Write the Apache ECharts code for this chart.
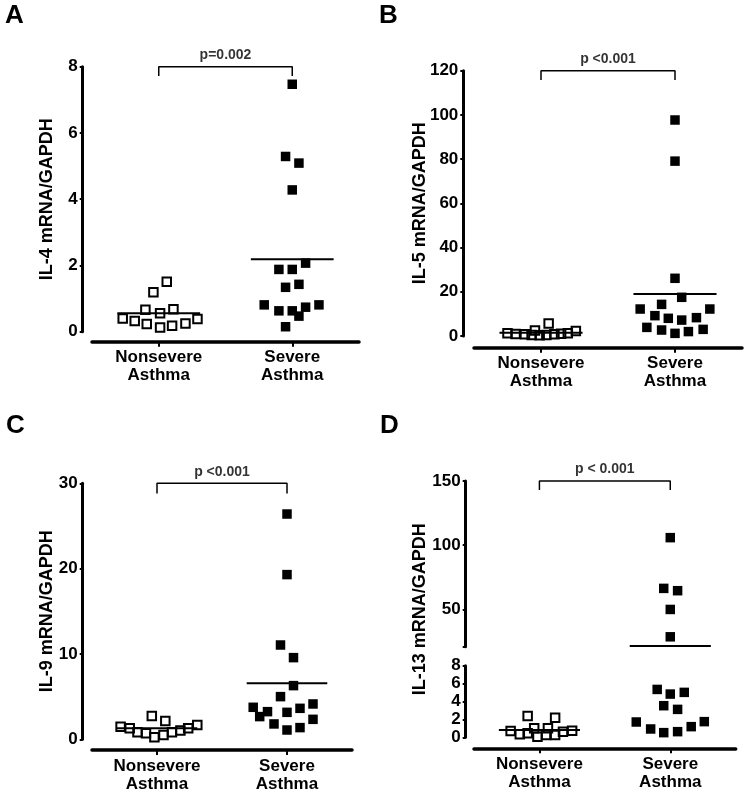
<!DOCTYPE html>
<html><head><meta charset="utf-8">
<script src="https://cdn.jsdelivr.net/npm/echarts@6/dist/echarts.min.js"></script>
<style>html,body{margin:0;padding:0;background:#fff}#c{width:748px;height:793px}</style>
</head><body><div id="c"></div>
<script>
// ---------- DATA ----------
const categories = ['Nonsevere\nAsthma', 'Severe\nAsthma'];

// Panel A: IL-4
const il4Nonsevere = [1.51, 1.19, 0.66, 0.56, 0.68, 0.40, 0.32, 0.23, 0.13, 0.18, 0.25, 0.38];
const il4NonsevereJitter = [0.06, -0.04, -0.10, 0.01, 0.11, -0.27, -0.18, -0.09, 0.01, 0.10, 0.20, 0.29];
const il4Severe = [7.47, 5.29, 5.09, 4.28, 2.07, 1.88, 1.88, 1.34, 1.43, 0.81, 0.81, 0.63, 0.63, 0.74, 0.47, 0.15];
const il4SevereJitter = [0, -0.05, 0.05, 0, 0.10, -0.10, 0, -0.05, 0.05, -0.21, 0.20, -0.10, 0, 0.10, 0.05, -0.05];
const il4Means = [0.56, 2.19];
const il4Ticks = [0, 8, 2];
const il4P = 'p=0.002';

// Panel B: IL-5
const il5Nonsevere = [1.2, 0.9, 0.8, 0.5, 2.5, 0.3, 5.7, 0.4, 0.8, 1.0, 1.3, 2.3];
const il5NonsevereJitter = [-0.25, -0.19, -0.12, -0.07, -0.045, -0.01, 0.057, 0.04, 0.10, 0.15, 0.20, 0.26];
const il5Severe = [97.7, 79.1, 26.1, 17.5, 14.3, 12.2, 12.2, 9.2, 8.0, 7.2, 8.3, 3.9, 2.7, 1.2, 2.0, 3.0];
const il5SevereJitter = [0, 0, 0, 0.05, -0.10, -0.26, 0.26, -0.15, -0.05, 0.05, 0.16, -0.21, -0.10, 0, 0.10, 0.21];
const il5Means = [1.5, 19.0];
const il5Ticks = [0, 120, 20];
const il5P = 'p <0.001';

// Panel C: IL-9
const il9Nonsevere = [2.73, 2.15, 1.48, 1.29, 0.82, 0.70, 0.23, 0.50, 0.82, 1.02, 1.29, 1.68];
const il9NonsevereJitter = [-0.04, 0.064, -0.28, -0.21, -0.15, -0.085, -0.02, 0.05, 0.115, 0.18, 0.24, 0.31];
const il9Severe = [26.4, 19.3, 11.05, 9.57, 6.29, 5.0, 3.75, 3.24, 3.16, 3.63, 4.14, 2.66, 1.8, 1.09, 1.37, 2.34];
const il9SevereJitter = [0, 0, -0.05, 0.05, 0.05, -0.05, -0.26, -0.15, 0, 0.10, 0.20, -0.21, -0.10, 0, 0.10, 0.20];
const il9Means = [1.3, 6.56];
const il9Ticks = [0, 30, 10];
const il9P = 'p <0.001';

// Panel D: IL-13 (broken axis)
const il13Nonsevere = [2.38, 2.19, 0.71, 0.33, 0.45, 1.0, 0.07, 0.26, 1.0, 0.26, 0.63, 0.74];
const il13NonsevereJitter = [-0.09, 0.12, -0.22, -0.15, -0.09, -0.04, -0.015, 0.05, 0.065, 0.12, 0.18, 0.25];
const il13Severe = [105.9, 66.4, 64.6, 50.0, 28.7, 5.35, 4.83, 5.02, 3.53, 3.12, 1.71, 0.93, 0.52, 0.63, 1.19, 1.75];
const il13SevereJitter = [0, -0.05, 0.056, 0, 0, -0.10, 0, 0.107, -0.05, 0.056, -0.26, -0.15, -0.05, 0.056, 0.16, 0.26];
const il13Means = [0.82, 21.5];
const il13LowerTicks = [0, 8, 2];
const il13UpperRange = [21, 150];
const il13UpperLabels = [50, 100, 150];
const il13P = 'p < 0.001';

// ---------- BUILD ----------
const FONT = "'Liberation Sans', Arial, Helvetica, sans-serif";
const option = { backgroundColor: '#ffffff', animation: false, grid: [], xAxis: [], yAxis: [], series: [], title: [] };

function addGrid(box) { option.grid.push(Object.assign({ containLabel: false }, box)); return option.grid.length - 1; }

function addXAxes(gi, showCat, xOffset) {
  option.xAxis.push({
    type: 'category', gridIndex: gi, data: categories, boundaryGap: true, show: showCat, offset: xOffset,
    axisLine: { show: true, onZero: false, lineStyle: { color: '#000', width: 3.5 } },
    axisTick: { show: true, alignWithLabel: true, length: 5, lineStyle: { color: '#000', width: 2 } },
    axisLabel: { color: '#000', fontSize: 17, fontWeight: 'bold', fontFamily: FONT, lineHeight: 18, margin: 7, interval: 0 },
    splitLine: { show: false }
  });
  const valIdx = option.xAxis.length;
  option.xAxis.push({ type: 'value', gridIndex: gi, min: 0.5, max: 2.5, show: false, splitLine: { show: false } });
  return valIdx;
}

function addYAxis(gi, cfg) {
  const ax = {
    type: 'value', gridIndex: gi, offset: cfg.offset, min: cfg.min, max: cfg.max,
    axisLine: { show: true, onZero: false, lineStyle: { color: '#000', width: 3 } },
    axisTick: { show: true, length: 3, lineStyle: { color: '#000', width: 2 } },
    axisLabel: { show: true, color: '#000', fontSize: 17, fontWeight: 'bold', fontFamily: FONT, margin: 5 },
    splitLine: { show: false }
  };
  if (cfg.interval != null) ax.interval = cfg.interval;
  if (cfg.labelValues) { ax.axisLabel.customValues = cfg.labelValues; ax.axisTick.customValues = cfg.tickValues || cfg.labelValues; }
  if (cfg.name) {
    ax.name = cfg.name; ax.nameLocation = 'middle'; ax.nameGap = cfg.nameGap; ax.nameRotate = 90;
    ax.nameMoveOverlap = false;
    ax.nameTextStyle = { color: '#000', fontSize: 18, fontWeight: 'bold', fontFamily: FONT };
  }
  if (cfg.hideAll) { ax.axisLine.show = false; ax.axisTick.show = false; ax.axisLabel.show = false; }
  option.yAxis.push(ax);
  return option.yAxis.length - 1;
}

function pts(values, jitter, cat, filter) {
  const out = [];
  values.forEach((v, i) => { if (!filter || filter(v)) out.push([cat + jitter[i], v]); });
  return out;
}

function addScatter(xi, yi, data, open) {
  option.series.push({
    type: 'scatter', xAxisIndex: xi, yAxisIndex: yi, data: data, symbol: 'rect', clip: false, z: 3,
    symbolSize: open ? 8.5 : 9.5,
    itemStyle: open ? { color: 'rgba(0,0,0,0)', borderColor: '#000', borderWidth: 2, opacity: 1 } : { color: '#000', opacity: 1 },
    silent: true
  });
}

function addMean(xi, yi, cat, m) {
  option.series.push({
    type: 'line', xAxisIndex: xi, yAxisIndex: yi, data: [[cat - 0.31, m], [cat + 0.31, m]], symbol: 'none', clip: false, z: 4,
    lineStyle: { color: '#000', width: 2 }, silent: true
  });
}

function addBracket(xi, yi, top, foot, text) {
  option.series.push({
    type: 'line', xAxisIndex: xi, yAxisIndex: yi, data: [[1, foot], [1, top], [2, top], [2, foot]], symbol: 'none', clip: false, z: 4,
    lineStyle: { color: '#000', width: 1.5 }, silent: true
  });
  option.series.push({
    type: 'scatter', xAxisIndex: xi, yAxisIndex: yi, data: [[1.5, top]], symbolSize: 1, clip: false,
    itemStyle: { color: 'rgba(0,0,0,0)' }, silent: true,
    label: { show: true, position: 'top', distance: 4, formatter: text, color: '#000', fontSize: 14, fontWeight: 'bold', fontFamily: FONT }
  });
}

function addLetter(text, left, top) {
  option.title.push({ text: text, left: left, top: top, padding: 0, textStyle: { color: '#000', fontSize: 26, fontWeight: 'bold', fontFamily: FONT } });
}

function simplePanel(box, yOff, xOff, ticks, name, nameGap, non, nonJ, sev, sevJ, means, pText, foot) {
  const gi = addGrid(box);
  const xi = addXAxes(gi, true, xOff);
  const yi = addYAxis(gi, { offset: yOff, min: ticks[0], max: ticks[1], interval: ticks[2], name: name, nameGap: nameGap });
  addMean(xi, yi, 1, means[0]);
  addMean(xi, yi, 2, means[1]);
  addScatter(xi, yi, pts(non, nonJ, 1), true);
  addScatter(xi, yi, pts(sev, sevJ, 2), false);
  addBracket(xi, yi, ticks[1], foot, pText);
}

simplePanel({ left: 92, top: 66.7, width: 267, height: 265 }, 9.3, 10, il4Ticks, 'IL-4 mRNA/GAPDH', 27,
  il4Nonsevere, il4NonsevereJitter, il4Severe, il4SevereJitter, il4Means, il4P, 7.72);
simplePanel({ left: 474, top: 70.7, width: 268, height: 265.3 }, 10.7, 11.7, il5Ticks, 'IL-5 mRNA/GAPDH', 34,
  il5Nonsevere, il5NonsevereJitter, il5Severe, il5SevereJitter, il5Means, il5P, 115.8);
simplePanel({ left: 92, top: 483.3, width: 260, height: 256 }, 9.3, 10.7, il9Ticks, 'IL-9 mRNA/GAPDH', 27,
  il9Nonsevere, il9NonsevereJitter, il9Severe, il9SevereJitter, il9Means, il9P, 28.8);

// Panel D: upper segment
(function () {
  const lowerMax = il13LowerTicks[1];
  const gU = addGrid({ left: 474, top: 481, width: 261.7, height: 165.7 });
  const xU = addXAxes(gU, false, 0);
  const yU = addYAxis(gU, { offset: 8.3, min: il13UpperRange[0], max: il13UpperRange[1], labelValues: il13UpperLabels,
    tickValues: [il13UpperRange[0]].concat(il13UpperLabels) });
  addMean(xU, yU, 2, il13Means[1]);
  addScatter(xU, yU, pts(il13Severe, il13SevereJitter, 2, v => v > lowerMax), false);
  addBracket(xU, yU, il13UpperRange[1], 143, il13P);

  const gL = addGrid({ left: 474, top: 665.7, width: 261.7, height: 71.6 });
  const xL = addXAxes(gL, true, 11);
  const yL = addYAxis(gL, { offset: 8.3, min: il13LowerTicks[0], max: il13LowerTicks[1], interval: il13LowerTicks[2] });
  addMean(xL, yL, 1, il13Means[0]);
  addScatter(xL, yL, pts(il13Nonsevere, il13NonsevereJitter, 1), true);
  addScatter(xL, yL, pts(il13Severe, il13SevereJitter, 2, v => v <= lowerMax), false);

  // name-only axis spanning the whole broken axis
  const gN = addGrid({ left: 474, top: 481, width: 261.7, height: 256.3 });
  option.xAxis.push({ type: 'value', gridIndex: gN, show: false });
  addYAxis(gN, { offset: 8.3, min: 0, max: 1, name: 'IL-13 mRNA/GAPDH', nameGap: 37, hideAll: true });
})();

addLetter('A', 5, 3);
addLetter('B', 379, 3);
addLetter('C', 6, 413);
addLetter('D', 380, 413);

const chart = echarts.init(document.getElementById('c'), null, { renderer: 'canvas' });
chart.setOption(option);
</script>
</body></html>
